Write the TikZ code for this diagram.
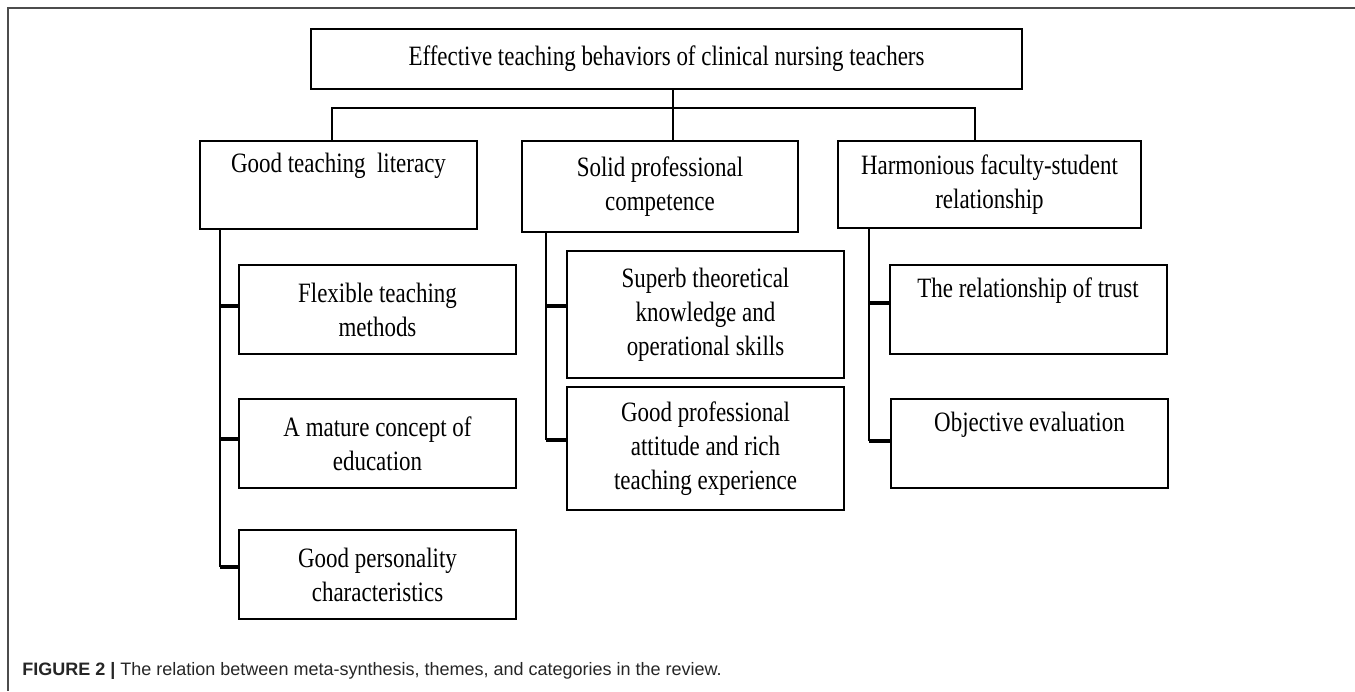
\documentclass[tikz,border=0pt]{standalone}
\usepackage{fontspec}
\setmainfont[FakeStretch=0.82]{Liberation Serif}
\newfontfamily\capfont{Liberation Sans}
\usepackage{xcolor}
\usepackage{tikz}
\usetikzlibrary{
	positioning,    % posizionamento dei nodi
	calc            % coordinate calcolate
}

\def\px{0.5pt}
\newcommand{\boxfont}{\fontsize{14}{17}\selectfont}

\tikzset{
	box/.style={draw, line width=1pt, inner sep=2pt, align=center, font=\boxfont},
	link/.style={line width=1.1pt},
	tick/.style={line width=1.6pt},
	frame/.style={black!70, line width=1.2pt}
}

\begin{document}
\begin{tikzpicture}[x=0.5pt, y=-0.5pt]
				\useasboundingbox (0,0) rectangle (1355,691);
				
				% --- Cornice ---
				\draw[frame] (1355,8) -- (8,8) -- (8,691);
				
				% --- Nodo principale ---
				\node[box, minimum width=711*\px, minimum height=60*\px] (top) at (666.5,59)
				{Effective teaching behaviors of clinical nursing teachers};
				
				% --- Temi ---
				\node[box, minimum width=277*\px, minimum height=88*\px] (lit) at (338.5,185)
				{Good teaching\ \ literacy\\\strut};
				\node[box, minimum width=276*\px, minimum height=91*\px] (comp) at (660,186.5)
				{Solid professional\\competence};
				\node[box, minimum width=303*\px, minimum height=87*\px] (rel) at (989.5,184.5)
				{Harmonious faculty-student\\relationship};
				
				% --- Categorie ---
				\node[box, minimum width=277*\px, minimum height=89*\px] (flex) at (377.5,309.5)
				{Flexible teaching\\methods};
				\node[box, minimum width=277*\px, minimum height=89*\px] (conc) at (377.5,443.5)
				{A mature concept of\\education};
				\node[box, minimum width=277*\px, minimum height=89*\px] (pers) at (377.5,574.5)
				{Good personality\\characteristics};
				
				\node[box, minimum width=277*\px, minimum height=127*\px] (know) at (705.5,314.5)
				{Superb theoretical\\knowledge and\\operational skills};
				\node[box, minimum width=277*\px, minimum height=123*\px] (att) at (705.5,448.5)
				{Good professional\\attitude and rich\\teaching experience};
				
				\node[box, minimum width=277*\px, minimum height=89*\px] (trust) at (1028,309.5)
				{The relationship of trust\\\strut};
				\node[box, minimum width=277*\px, minimum height=89*\px] (eval) at (1029.5,443.5)
				{Objective evaluation\\\strut};
				
				% --- Collegamenti ---
				\coordinate (stem) at (673,108);
				\coordinate (busL) at (332,108);
				\coordinate (busR) at (975,108);
				\draw[link] (top.south -| stem) -- (comp.north -| stem);
				\draw[link] (busL |- lit.north) -- (busL) -- (busR) -- (busR |- rel.north);
				
				% spine sinistra
				\coordinate (spL) at (220,0);
				\draw[link] (spL |- lit.south) -- ([yshift=3.75pt]spL |- pers.west);
				\draw[tick] ([yshift=3.75pt]spL |- pers.west) -- ([yshift=3.75pt]pers.west);
				\draw[tick] ([yshift=1.75pt]spL |- flex.west) -- ([yshift=1.75pt]flex.west);
				\draw[tick] ([yshift=2.25pt]spL |- conc.west) -- ([yshift=2.25pt]conc.west);
				
				% spine centrale
				\coordinate (spM) at (546,0);
				\draw[link] (spM |- comp.south) -- ([yshift=4.25pt]spM |- att.west);
				\draw[tick] ([yshift=4.25pt]spM |- att.west) -- ([yshift=4.25pt]att.west);
				\draw[tick] ([yshift=4.25pt]spM |- know.west) -- ([yshift=4.25pt]know.west);
				
				% spine destra
				\coordinate (spR) at (869,0);
				\draw[link] (spR |- rel.south) -- ([yshift=1.25pt]spR |- eval.west);
				\draw[tick] ([yshift=1.25pt]spR |- eval.west) -- ([yshift=1.25pt]eval.west);
				\draw[tick] ([yshift=3.25pt]spR |- trust.west) -- ([yshift=3.25pt]trust.west);
				
				% --- Didascalia ---
				\node[anchor=base west, inner sep=0pt, font=\capfont\fontsize{9}{11}\selectfont, text=black!85] (caption) at (22,675)
				{\textbf{FIGURE 2 |} The relation between meta-synthesis, themes, and categories in the review.};
			\end{tikzpicture}
\end{document}
